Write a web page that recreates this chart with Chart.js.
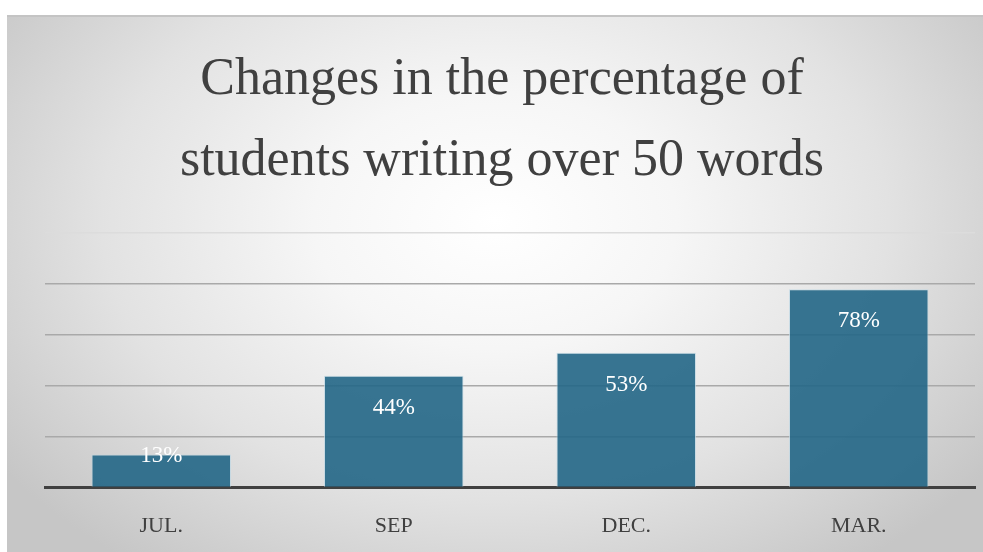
<!DOCTYPE html>
<html>
<head>
<meta charset="utf-8">
<script src="https://cdn.jsdelivr.net/npm/chart.js@4"></script>
<style>
  html, body { margin: 0; padding: 0; background: #fff; }
  #frame {
    position: absolute; left: 7px; top: 15px; width: 976px; height: 537px;
    border-top: 2px solid #c4c4c4; box-sizing: border-box;
    background: radial-gradient(ellipse 62% 80% at 50% 38%, #ffffff 0%, #f6f6f6 30%, #e2e2e2 65%, #c6c6c6 100%);
  }
  canvas { display: block; }
</style>
</head>
<body>
<div id="frame"><canvas id="chart" width="976" height="535"></canvas></div>
<script>
const months = ["JUL.", "SEP", "DEC.", "MAR."];
const percents = [13, 44, 53, 78];
const titleLines = ["Changes in the percentage of", "students writing over 50 words"];

const serif = "'Liberation Serif', 'DejaVu Serif', serif";

// white % labels drawn just inside the top of each bar
const barLabels = {
    id: "barLabels",
    afterDatasetsDraw(chart) {
        let ctx = chart.ctx;
        let meta = chart.getDatasetMeta(0);
        ctx.save();
        ctx.fillStyle = "#ffffff";
        ctx.font = "23px " + serif;
        ctx.textAlign = "center";
        ctx.textBaseline = "middle";
        meta.data.forEach(function (bar, i) {
            let h = bar.base - bar.y;
            let y = h > 50 ? bar.y + 32 : bar.y + 1;
            ctx.fillText(percents[i] + "%", bar.x, y);
        });
        ctx.restore();
    },
};

function createChart(name) {
    let ctx = document.getElementById(name).getContext("2d");
    return new Chart(ctx, {
        type: "bar",
        data: {
            labels: months,
            datasets: [
                {
                    data: percents,
                    backgroundColor: "rgba(34, 102, 134, 0.9)",
                    borderColor: "rgba(190, 215, 228, 0.7)",
                    borderWidth: 1,
                    barPercentage: 0.6,
                    categoryPercentage: 1,
                },
            ],
        },
        options: {
            responsive: false,
            animation: false,
            layout: { padding: { left: 22, right: 8, top: 0, bottom: -12 } },
            plugins: {
                legend: { display: false },
                tooltip: { enabled: false },
                title: {
                    display: true,
                    text: titleLines,
                    color: "#404040",
                    font: { family: serif, size: 52, weight: "normal", lineHeight: 1.56 },
                    padding: { top: 23, bottom: 31 },
                },
            },
            scales: {
                x: {
                    grid: { display: false, drawTicks: false },
                    border: { color: "#404040", width: 3 },
                    ticks: {
                        color: "#404040",
                        font: { family: serif, size: 22 },
                        padding: 25,
                    },
                },
                y: {
                    min: 0,
                    max: 100,
                    afterFit: function (scale) { scale.width = 16; },
                    ticks: { display: false, stepSize: 20 },
                    border: { display: false },
                    grid: {
                        drawTicks: false,
                        lineWidth: 1.5,
                        color: function (c) {
                            if (c.tick.value === 0) return "rgba(0,0,0,0)";
                            if (c.tick.value === 100) return "#dcdcdc";
                            return "#a9a9a9";
                        },
                    },
                },
            },
        },
        plugins: [barLabels],
    });
}

createChart("chart");
</script>
</body>
</html>
